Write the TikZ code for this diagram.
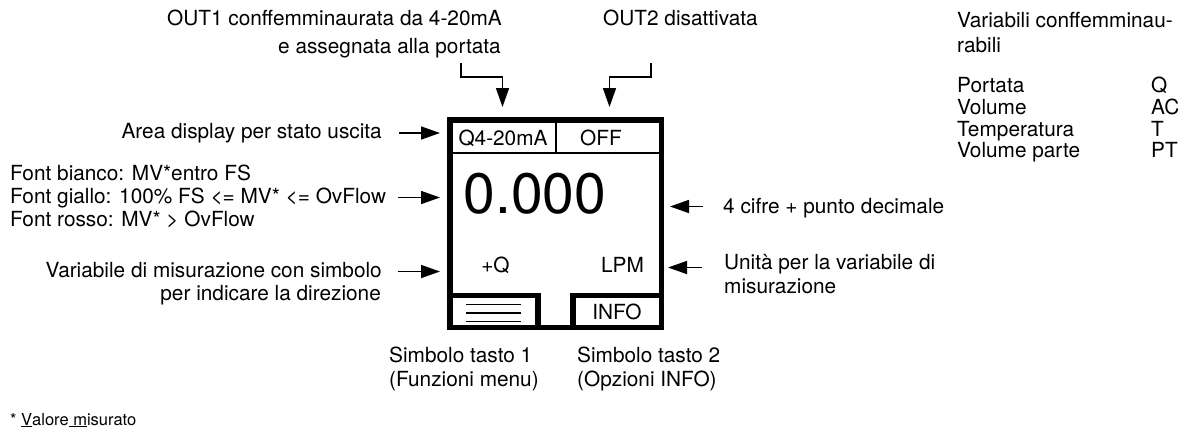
\documentclass[tikz,border=0pt]{standalone}
\usepackage{fontspec}
\setmainfont{TeX Gyre Heros}
\usetikzlibrary{arrows.meta,calc}
\begin{document}
\begin{tikzpicture}[x=1pt,y=-1pt,
  lbl/.style={inner sep=0pt,font=\fontsize{20.8}{24}\selectfont},
  small/.style={inner sep=0pt,font=\fontsize{16.5}{19}\selectfont},
  big/.style={inner sep=0pt,font=\fontsize{57}{60}\selectfont},
  conn/.style={line width=1.6pt,-{Triangle[length=19pt,width=13pt]}},
  frame/.style={line width=5.5pt,line join=miter},
 ]
\useasboundingbox (0,0) rectangle (1189,432);

% display frame
\node[draw,frame,minimum width=211.5pt,minimum height=207.5pt,inner sep=0pt] (disp) at (555.5,223.5) {};
\coordinate (hl) at (452,153);
\coordinate (hr) at (659,153);
\draw[line width=2pt] (hl) -- (hr);
\coordinate (dt) at (556,122);
\coordinate (db) at (556,153);
\draw[line width=1.5pt] (dt) -- (db);
% buttons
\coordinate (b1a) at (449.75,295.5);
\coordinate (b1b) at (538,327.25);
\draw[frame] (b1a) -| (b1b);
\coordinate (b2a) at (661.25,295.5);
\coordinate (b2b) at (573,327.25);
\draw[frame] (b2a) -| (b2b);
% menu icon
\coordinate (m1a) at (466,304.5); \coordinate (m1b) at (521,304.5);
\coordinate (m2a) at (466,313);   \coordinate (m2b) at (521,313);
\coordinate (m3a) at (466,321.5); \coordinate (m3b) at (521,321.5);
\draw[line width=1.4pt] (m1a) -- (m1b) (m2a) -- (m2b) (m3a) -- (m3b);

% display texts
\node[lbl] (q420) at (503,138) {Q4-20mA};
\node[lbl] (off) at (601,138) {OFF};
\node[big] (val) at (535,194) {0.000};
\node[lbl] (pq) at (495.5,265) {+Q};
\node[lbl] (lpm) at (622.5,265) {LPM};
\node[lbl] (info) at (617,312) {INFO};

% top labels
\node[lbl,anchor=base east] (out1a) at (502,25.5) {OUT1 conffemminaurata da 4-20mA};
\node[lbl,anchor=base east] (out1b) at (501,53) {e assegnata alla portata};
\node[lbl,anchor=base west] (out2) at (603,25.5) {OUT2 disattivata};

\coordinate (a1s) at (461,63);
\coordinate (a1e) at (502.5,107);
\draw[conn] (a1s) |- ($(a1e)+(0,-30)$) -- (a1e);
\coordinate (a2s) at (651,63);
\coordinate (a2e) at (609.5,107);
\draw[conn] (a2s) |- ($(a2e)+(0,-30)$) -- (a2e);

% right table
\node[lbl,anchor=base west] (vc1) at (957,27.5) {Variabili conffemminau-};
\node[lbl,anchor=base west] (vc2) at (957,52) {rabili};
\node[lbl,anchor=base west] (t1) at (957,92.5) {Portata};
\node[lbl,anchor=base west] (t2) at (957,114.5) {Volume};
\node[lbl,anchor=base west] (t3) at (957,136) {Temperatura};
\node[lbl,anchor=base west] (t4) at (957,157.5) {Volume parte};
\node[lbl,anchor=base west] (s1) at (1151,92.5) {Q};
\node[lbl,anchor=base west] (s2) at (1151,114.5) {AC};
\node[lbl,anchor=base west] (s3) at (1151,136) {T};
\node[lbl,anchor=base west] (s4) at (1151,157.5) {PT};

% left labels
\node[lbl,anchor=base east] (area) at (382,138) {Area display per stato uscita};
\node[lbl,anchor=base west] (f1) at (10,180) {Font bianco: MV*entro FS};
\node[lbl,anchor=base west] (f2) at (10,203.5) {Font giallo: 100\% FS <= MV* <= OvFlow};
\node[lbl,anchor=base west] (f3) at (10,226) {Font rosso: MV* > OvFlow};
\node[lbl,anchor=base east] (var1) at (382,277) {Variabile di misurazione con simbolo};
\node[lbl,anchor=base east] (var2) at (381,300) {per indicare la direzione};

\coordinate (la1) at (399,133); \coordinate (la2) at (440,133);
\coordinate (lb1) at (398,197.5); \coordinate (lb2) at (440,197.5);
\coordinate (lc1) at (398,271.5); \coordinate (lc2) at (440,271.5);
\draw[conn] (la1) -- (la2);
\draw[conn] (lb1) -- (lb2);
\draw[conn] (lc1) -- (lc2);

% right labels
\node[lbl,anchor=base west] (cif) at (723,213.5) {4 cifre + punto decimale};
\node[lbl,anchor=base west] (un1) at (724,269) {Unità per la variabile di};
\node[lbl,anchor=base west] (un2) at (724,293.5) {misurazione};
\coordinate (ra1) at (703,206.5); \coordinate (ra2) at (670,206.5);
\coordinate (rb1) at (702,267.5); \coordinate (rb2) at (668,267.5);
\draw[conn] (ra1) -- (ra2);
\draw[conn] (rb1) -- (rb2);

% bottom labels
\node[lbl,anchor=base west] (k1a) at (389,362) {Simbolo tasto 1};
\node[lbl,anchor=base west] (k1b) at (389,386) {(Funzioni menu)};
\node[lbl,anchor=base west] (k2a) at (577,362) {Simbolo tasto 2};
\node[lbl,anchor=base west] (k2b) at (577,386) {(Opzioni INFO)};

% footnote
\node[small,anchor=base west] (foot) at (10,425) {* \underline{V}alore\underline{ m}isurato};
\end{tikzpicture}
\end{document}
